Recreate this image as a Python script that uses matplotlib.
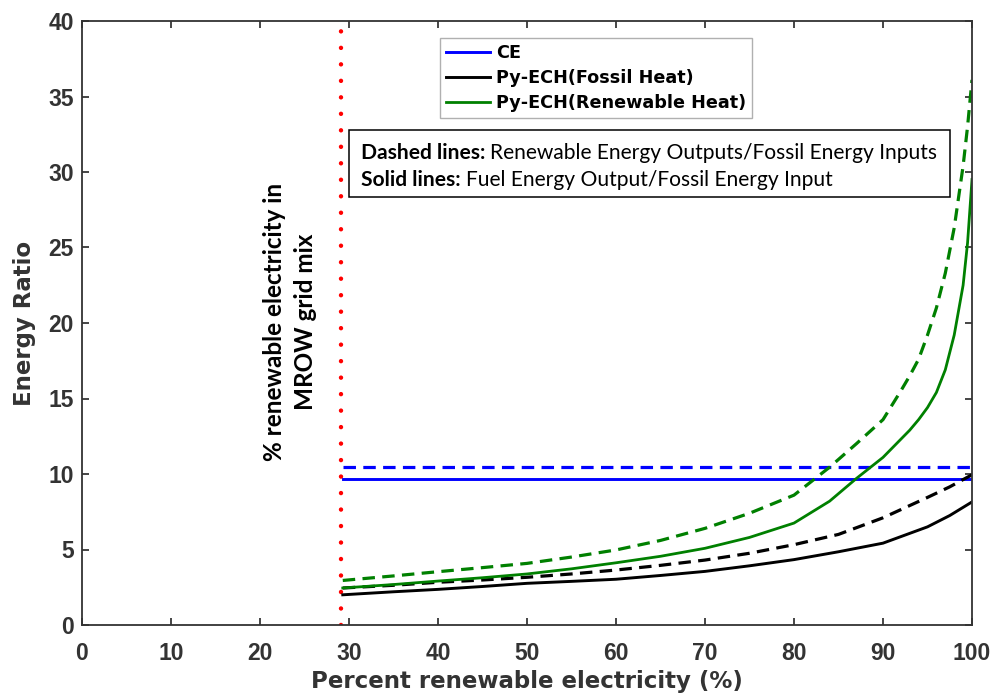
import matplotlib.pyplot as plt
from matplotlib.patches import Rectangle

# percent renewable electricity (x) where each green curve was read
pct = [29.3, 35, 40, 45, 50, 55, 60, 65, 70, 75, 80, 84, 87, 90, 92, 93, 94, 95, 96, 97, 98, 99, 99.5, 100]

# energy ratios
green_solid = [2.45, 2.68, 2.91, 3.13, 3.38, 3.72, 4.12, 4.55, 5.08, 5.8, 6.75, 8.2, 9.7, 11.1, 12.3, 12.9, 13.6, 14.4, 15.4, 16.9, 19.2, 22.5, 25.3, 29.5]
green_dash = [2.95, 3.25, 3.53, 3.8, 4.08, 4.5, 4.97, 5.6, 6.4, 7.4, 8.6, 10.45, 12.0, 13.6, 15.5, 16.5, 17.6, 19.2, 21.0, 23.3, 26.3, 30.4, 33.0, 36.1]

pct_k = [29.3, 35, 40, 45, 50, 55, 60, 65, 70, 75, 80, 85, 90, 95, 97.5, 100]
black_solid = [2.0, 2.2, 2.36, 2.55, 2.76, 2.89, 3.03, 3.28, 3.55, 3.92, 4.33, 4.85, 5.42, 6.5, 7.25, 8.15]
black_dash = [2.45, 2.63, 2.83, 2.98, 3.16, 3.38, 3.64, 3.95, 4.3, 4.75, 5.32, 6.0, 7.1, 8.45, 9.15, 9.95]

pct_ce = [29.3, 100]
ce_solid = [9.7, 9.7]
ce_dash = [10.47, 10.47]

grid_mix = 29.1  # % renewable electricity in MROW grid mix

legend_labels = ['CE', 'Py-ECH(Fossil Heat)', 'Py-ECH(Renewable Heat)']

W, H = 996, 698
fig = plt.figure(figsize=(W / 100, H / 100), dpi=100)
ax = fig.add_axes([82 / W, 1 - 625 / H, 890 / W, 604 / H])

dash = (0, (3.9, 2.3))
dot = (0, (0.01, 3.7))

ax.plot([grid_mix, grid_mix], [0, 40], color='red', lw=3.2, linestyle=dot,
        dash_capstyle='round', zorder=1)

h1, = ax.plot(pct_ce, ce_solid, color='#0000ff', lw=2.1)
ax.plot(pct_ce, ce_dash, color='#0000ff', lw=2.3, linestyle=dash)
h2, = ax.plot(pct_k, black_solid, color='black', lw=2.1)
ax.plot(pct_k, black_dash, color='black', lw=2.3, linestyle=dash)
h3, = ax.plot(pct, green_solid, color='#008000', lw=2.0)
ax.plot(pct, green_dash, color='#008000', lw=2.3, linestyle=dash)

ax.set_xlim(0, 100)
ax.set_ylim(0, 40)
ax.set_xticks(range(0, 101, 10))
ax.set_yticks(range(0, 41, 5))
ax.tick_params(direction='in', top=True, right=True, length=5, width=1.2,
               colors='#262626', labelsize=16.5, pad=6)
ax.tick_params(axis='x', pad=12)
for lab in ax.get_xticklabels() + ax.get_yticklabels():
    lab.set_fontweight('bold')
    lab.set_family('Liberation Sans')
    lab.set_color('#333333')
for s in ax.spines.values():
    s.set_color('#333333')
    s.set_linewidth(1.3)

ax.set_xlabel('Percent renewable electricity (%)', fontsize=16.5, fontweight='bold',
              family='DejaVu Sans', color='#333333', labelpad=4)
ax.set_ylabel('Energy Ratio', fontsize=16.5, fontweight='bold',
              family='DejaVu Sans', color='#333333', labelpad=9)

leg = fig.legend([h1, h2, h3], legend_labels, loc='upper left',
                 bbox_to_anchor=(440 / W, 1 - 38 / H), borderaxespad=0,
                 prop={'family': 'DejaVu Sans', 'weight': 'bold', 'size': 12.7},
                 handlelength=2.5, handletextpad=0.35, labelspacing=0.4,
                 borderpad=0.33, fancybox=False, framealpha=1)
leg.get_frame().set_edgecolor('#b0b0b0')
leg.get_frame().set_linewidth(1)

# rotated note next to the grid mix line
ax.text(290 / W, 1 - 322 / H, '% renewable electricity in\nMROW grid mix',
        transform=fig.transFigure, rotation=90, ha='center', va='center',
        fontsize=17.5, fontweight='bold', family='Lato', linespacing=1.45)

# note box about dashed and solid lines
fig.patches.append(Rectangle((349 / W, 1 - 197 / H), 601 / W, 67 / H,
                             transform=fig.transFigure, fill=False,
                             edgecolor='black', lw=1.1))
renderer = fig.canvas.get_renderer()
notes = [('Dashed lines:', 'Renewable Energy Outputs/Fossil Energy Inputs', 159),
         ('Solid lines:', 'Fuel Energy Output/Fossil Energy Input', 186)]
for head, body, yb in notes:
    t = fig.text(361 / W, 1 - yb / H, head, fontsize=15.1, fontweight='bold',
                 family='Lato', va='baseline')
    bb = t.get_window_extent(renderer)
    fig.text((bb.x1 + 5) / W, 1 - yb / H, body, fontsize=15.1,
             family='Lato', va='baseline')

fig.savefig('out.png', dpi=100)
